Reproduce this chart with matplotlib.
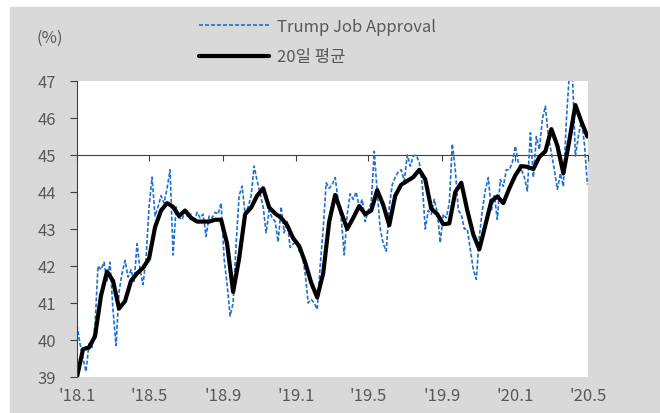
import pandas as pd
import matplotlib.pyplot as plt
from matplotlib.patches import Rectangle

plt.rcParams['font.family'] = ['Noto Sans CJK KR', 'DejaVu Sans']

# daily approval sampled every 5 days from 2018-01-01
approval = [
    40.4, 39.9, 39.5, 39.15, 39.9, 39.8, 40.4, 42.0, 41.9, 42.1,
    41.6, 42.1, 40.8, 39.85, 41.3, 41.8, 42.15, 41.7, 41.9, 41.55,
    42.6, 41.9, 41.5, 42.2, 43.6, 44.4, 43.35, 43.6, 43.9, 43.7,
    44.1, 44.6, 42.3, 43.6, 43.3, 43.25, 43.5, 43.3, 43.4, 43.2,
    43.45, 43.3, 43.4, 42.8, 43.35, 43.3, 43.45, 43.4, 43.7, 42.2,
    41.5, 40.65, 41.0, 42.6, 43.9, 44.16, 43.4, 43.6, 43.9, 44.7,
    44.3, 43.96, 43.6, 42.9, 43.5, 43.3, 43.2, 42.65, 43.6, 42.9,
    43.2, 42.5, 42.6, 42.64, 42.4, 42.3, 41.8, 41.0, 41.1, 41.0,
    40.83, 42.0, 43.0, 44.25, 44.1, 44.2, 44.39, 43.75, 43.3, 42.3,
    43.4, 43.95, 43.8, 44.0, 43.6, 43.8, 43.2, 43.5, 43.7, 45.1,
    44.0, 43.0, 42.6, 42.4, 43.6, 44.2, 44.4, 44.55, 44.6, 44.3,
    45.0, 44.7, 44.97, 45.0, 44.8, 44.2, 43.0, 43.5, 43.4, 43.8,
    43.45, 42.63, 43.4, 43.3, 43.7, 45.3, 44.6, 43.5, 43.4, 43.0,
    43.0, 42.45, 41.9, 41.64, 42.8, 43.5, 44.05, 44.39, 43.5, 43.9,
    43.26, 44.34, 44.15, 44.6, 44.6, 44.8, 45.24, 44.8, 44.6, 44.4,
    44.03, 45.6, 44.4, 45.5, 45.15, 45.96, 46.32, 45.5, 45.06, 44.6,
    44.07, 44.5, 44.15, 45.96, 47.2, 47.2, 44.97, 45.5, 45.96, 45.3,
    44.2,
]

# 20-day average sampled every 10 days from 2018-01-01
avg20 = [
    39.0, 39.75, 39.8, 40.1, 41.2, 41.85, 41.6, 40.85, 41.05, 41.6,
    41.8, 41.95, 42.2, 43.05, 43.5, 43.7, 43.6, 43.35, 43.5, 43.3,
    43.2, 43.2, 43.2, 43.25, 43.25, 42.6, 41.3, 42.2, 43.4, 43.58,
    43.9, 44.1, 43.58, 43.42, 43.3, 43.1, 42.75, 42.54, 42.1, 41.55,
    41.15, 41.8, 43.2, 43.92, 43.45, 43.0, 43.3, 43.62, 43.4, 43.5,
    44.05, 43.65, 43.1, 43.9, 44.2, 44.3, 44.4, 44.6, 44.34, 43.55,
    43.4, 43.13, 43.15, 44.0, 44.25, 43.5, 42.85, 42.45, 43.1, 43.75,
    43.88, 43.7, 44.1, 44.45, 44.7, 44.68, 44.62, 44.95, 45.1, 45.7,
    45.25, 44.5, 45.4, 46.35, 45.9, 45.5,
]

tick_dates = ['2018-01-01', '2018-05-01', '2018-09-01', '2019-01-01',
              '2019-05-01', '2019-09-01', '2020-01-01', '2020-05-01']
tick_labels = ["'18.1", "'18.5", "'18.9", "'19.1", "'19.5", "'19.9", "'20.1", "'20.5"]

d_app = pd.date_range('2018-01-01', periods=len(approval), freq='5D')
d_avg = pd.date_range('2018-01-01', periods=len(avg20), freq='10D')

txt = '#595959'
fig = plt.figure(figsize=(6.6, 4.14), dpi=100, facecolor='white')
fig.patches.append(Rectangle((10 / 660, 0), 650 / 660, 1 - 8 / 414,
                             transform=fig.transFigure, color='#d9d9d9', zorder=-10))

ax = fig.add_axes([77 / 660, 1 - 378 / 414, 511 / 660, 296 / 414])
ax.set_facecolor('white')

ax.plot(d_app, approval, color='#1f6fd0', lw=1.2, ls=(0, (2.4, 1.2)), label='Trump Job Approval')
ax.plot(d_avg, avg20, color='black', lw=3, solid_capstyle='round',
        solid_joinstyle='round', label='20일 평균')

ax.set_ylim(39, 47)
ax.set_yticks(range(39, 48))
ax.set_xlim(pd.Timestamp(tick_dates[0]), pd.Timestamp(tick_dates[-1]))
ax.set_xticks(pd.to_datetime(tick_dates))
ax.set_xticklabels(tick_labels)

for s in ['top', 'right']:
    ax.spines[s].set_visible(False)
ax.spines['left'].set_color('#404040')
ax.spines['bottom'].set_position(('data', 45))
ax.spines['bottom'].set_color('#404040')
ax.spines['bottom'].set_zorder(1)

ax.tick_params(axis='y', direction='out', length=5, color='#404040',
               labelsize=12, labelcolor=txt, pad=10)
ax.tick_params(axis='x', direction='out', length=4, color='#404040',
               labelsize=12, labelcolor=txt, pad=163)

fig.text(36 / 660, 1 - 38 / 414, '(%)', fontsize=12, color=txt, va='center')

leg = ax.legend(loc='upper left', bbox_to_anchor=(184 / 660, 1 - 4 / 414),
                bbox_transform=fig.transFigure, frameon=False, fontsize=12,
                handlelength=4.2, labelspacing=0.8, handletextpad=0.5)
for t in leg.get_texts():
    t.set_color(txt)

plt.savefig('out.png', dpi=100)
